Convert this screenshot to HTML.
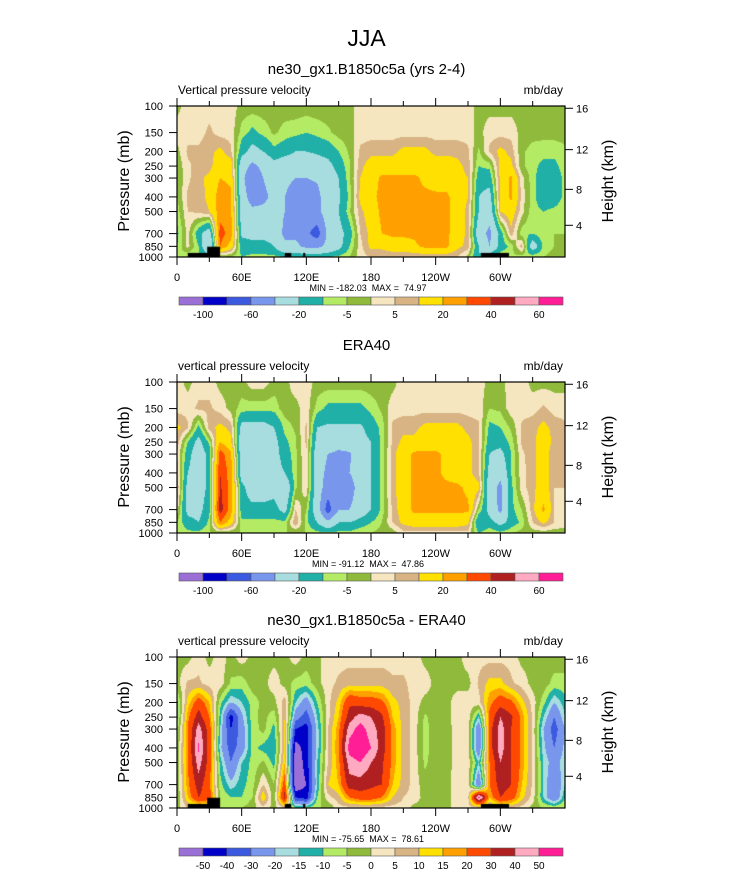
<!DOCTYPE html>
<html><head><meta charset="utf-8">
<style>
body{margin:0;background:#fff;width:733px;height:888px;position:relative;overflow:hidden;font-family:"Liberation Sans",sans-serif;}
canvas{position:absolute;}
svg{position:absolute;left:0;top:0;}
text{white-space:pre;}
</style></head>
<body>
<canvas id="c1" width="388" height="151" style="left:177px;top:106px"></canvas>
<canvas id="c2" width="388" height="151" style="left:177px;top:382px"></canvas>
<canvas id="c3" width="388" height="151" style="left:177px;top:657px"></canvas>
<svg id="ov" width="733" height="888"></svg>
<script>
const lons = [0,10,20,30,40,50,60,70,80,90,100,110,120,130,140,150,160,170,180,190,200,210,220,230,240,250,260,270,280,290,300,310,320,330,340,350,360];
const plevs = [100,150,200,250,300,400,500,700,850,1000];
const colors = ["#9a6fd6","#0000c8","#3c5ae0","#7896ec","#a8dde0","#20b0a8","#b4eb64","#90ba3c","#f5e6c0","#d8b484","#ffe000","#ffa000","#ff4800","#b02020","#ffaac0","#ff1e96"];
const levels12 = [-100,-80,-60,-40,-20,-10,-5,0,5,10,20,30,40,50,60];
const labels12 = ["-100","-60","-20","-5","5","20","40","60"];
const levels3 = [-50,-40,-30,-20,-15,-10,-5,0,5,10,15,20,30,40,50];
const labels3 = ["-50","-40","-30","-20","-15","-10","-5","0","5","10","15","20","30","40","50"];
const xTicks = [0,60,120,180,240,300];
const xTickLabels = ["0","60E","120E","180","120W","60W"];
const pTicks = [100,150,200,250,300,400,500,700,850,1000];
const hTicks = [16,12,8,4];
const hFrac = [0.015,0.289,0.552,0.79];

const model = [
[-2,3,3,3,3,3,-2,-2,-2,-2,-2,-2,-2,-2,-2,-2,-2,3,3,3,3,3,3,3,3,3,3,3,-2,-2,-2,-2,-2,-2,-2,-2,-2],
[3,3,3,6,3,3,-7,-12,-8,-4,-7,-8,-10,-8,-6,-3,-2,3,3,3,3,3,3,3,3,3,3,3,-2,3,3,3,-2,-3,-3,-3,-3],
[-2,6,6,8,12,6,-15,-25,-20,-12,-15,-20,-20,-18,-15,-10,-4,6,8,8,8,12,12,12,8,8,8,6,-6,6,12,8,-4,-7,-8,-8,-6],
[-4,4,7,8,15,15,-30,-45,-35,-25,-30,-30,-30,-28,-25,-15,-6,8,14,15,15,15,15,15,15,15,12,8,-10,-8,12,12,-4,-8,-12,-12,-7],
[-5,4,8,12,20,18,-35,-55,-40,-30,-35,-40,-40,-38,-30,-20,-6,10,15,22,22,22,22,18,15,15,12,10,-15,-15,12,22,2,-8,-15,-15,-8],
[-5,6,7,12,25,22,-30,-50,-45,-35,-40,-50,-50,-45,-30,-22,-8,12,18,22,22,22,22,22,22,22,15,10,-20,-25,12,22,3,-8,-15,-15,-8],
[-8,5,6,10,25,22,-28,-35,-35,-30,-40,-50,-50,-45,-30,-20,-6,8,15,22,25,25,25,25,25,22,15,8,-20,-30,10,15,2,-8,-10,-8,-6],
[-12,2,-15,-30,35,25,-22,-25,-25,-25,-45,-45,-55,-70,-35,-25,-15,5,12,20,22,22,22,25,25,22,15,8,-30,-45,-15,8,-8,-10,-5,-5,-5],
[-10,2,-10,-40,30,15,-15,-15,-15,-20,-35,-35,-45,-45,-35,-25,-10,3,12,12,15,15,18,22,22,22,12,8,-20,-40,-15,-8,8,-30,-8,-5,-5],
[-5,-10,-10,-12,-8,-5,-10,-8,-8,-8,-10,-10,-10,-10,-10,-8,-5,3,5,5,5,5,5,5,5,5,5,-2,-20,-8,-5,-5,-8,-5,-5,-3,-3]];
const era = [
[3,-2,3,3,-2,-2,-2,3,3,-2,-2,3,3,-2,-2,-2,-2,-2,-2,-2,-2,3,3,3,3,3,3,3,3,-2,-2,3,3,-2,-2,-2,-2],
[3,3,6,6,3,-2,-7,-8,-8,-8,-2,-2,3,-7,-12,-12,-12,-12,-8,-4,3,3,3,3,3,3,3,3,3,-5,-4,3,3,3,6,3,3],
[12,6,-12,8,12,8,-25,-25,-25,-20,-8,-4,6,-20,-22,-22,-22,-22,-15,-8,6,8,8,12,12,12,12,8,6,-12,-10,-4,6,8,12,8,6],
[8,-10,-25,-8,20,12,-30,-30,-30,-25,-12,-6,6,-25,-25,-30,-30,-25,-20,-8,6,12,12,15,15,15,15,12,6,-15,-15,-8,6,8,15,8,6],
[5,-15,-30,-15,35,22,-30,-30,-30,-25,-15,-6,5,-30,-40,-45,-42,-30,-20,-8,8,15,22,22,22,18,15,12,6,-20,-25,-10,4,8,15,5,5],
[8,-20,-30,-15,40,25,-30,-30,-30,-25,-20,-6,4,-30,-45,-45,-40,-30,-20,-8,8,15,22,22,22,18,15,12,6,-25,-35,-10,3,8,15,5,5],
[10,-25,-30,-15,42,25,-15,-30,-30,-25,-35,-6,4,-30,-50,-40,-50,-30,-20,-8,8,15,22,22,22,22,22,18,12,-30,-45,-12,3,8,15,5,5],
[3,-25,-25,-12,45,25,-15,-15,-15,-15,-25,5,-5,-30,-70,-40,-40,-30,-20,-8,6,15,22,22,22,22,22,22,-5,-25,-45,-12,-5,8,22,5,3],
[-5,-15,-20,-8,30,15,-8,-8,-8,-8,-8,10,-8,-20,-35,-20,-20,-15,-10,-5,5,12,15,15,15,15,15,12,-20,-15,-25,-15,-8,5,12,5,3],
[-5,-8,-8,-5,-5,-5,-5,-5,-5,-5,-5,-5,-5,-8,-8,-8,-8,-5,-5,-3,-3,3,3,3,3,3,3,3,-10,-5,-8,-5,-3,-3,-3,-3,-3]];
const diff = [
[-2,-2,3,-2,3,-2,3,-2,-2,-2,-2,3,-2,-2,3,3,3,3,3,3,3,3,3,-2,-2,-2,-2,3,3,3,3,3,-2,-2,-2,-2,-2],
[-2,6,6,3,3,-6,-8,-2,-2,3,-2,-7,-8,-2,3,6,8,8,8,8,6,6,3,3,-2,-2,-2,-2,6,12,12,6,3,-2,-2,-7,-7],
[-12,12,25,15,-8,-20,-15,-8,-3,-2,8,-15,-25,-10,3,12,28,25,25,22,12,8,3,-2,-2,-2,3,3,3,18,25,22,12,3,-8,-20,-12],
[-12,18,35,20,-12,-45,-22,-7,-3,-8,10,-25,-35,-15,3,15,35,45,40,32,15,8,3,-6,-2,-2,3,3,-15,22,40,32,18,4,-15,-30,-15],
[-8,20,45,25,-15,-40,-25,-8,-3,-12,12,-40,-45,-18,5,18,45,55,45,35,18,8,3,-7,-2,-3,3,3,-30,25,45,30,18,4,-20,-35,-20],
[-5,20,52,25,-18,-35,-25,-8,-12,-15,12,-55,-45,-18,5,20,55,60,50,35,18,8,3,-7,-2,-3,3,3,-30,25,45,30,18,4,-18,-30,-18],
[-5,20,45,25,-12,-30,-15,-8,-4,-12,15,-60,-45,-15,5,18,45,50,40,32,18,8,3,-6,-2,-3,3,3,-15,20,40,30,18,4,-15,-25,-15],
[-5,18,35,22,-8,-18,-12,-7,5,-5,25,-60,-50,-15,10,15,35,35,32,30,15,8,3,-3,-2,-2,3,3,-30,20,35,30,15,4,-15,-30,-15],
[-5,15,30,25,-5,-10,-10,-5,15,-5,35,-40,-45,-10,3,8,20,25,25,20,10,5,3,-2,-5,-2,3,3,55,15,30,25,12,3,-15,-30,-10],
[-2,5,5,5,-5,-5,-5,-2,3,-2,5,-10,-8,-5,-5,3,3,3,3,3,3,3,-2,-2,-2,-2,3,3,3,3,5,5,3,-2,-5,-5,-5]];
// land mask: [lon start, lon end, top pressure]
const land = [[10,38,940],[28,40,855],[100,106,940],[117,119,940],[282,308,940]];

const W=388,H=151,X0=177;
function xOf(lon){return lon*W/360;}
function yOf(p){return H*Math.log(p/100)/Math.log(10);}
const logp = plevs.map(p=>Math.log(p));
function colorFor(v,lev){let i=0;while(i<lev.length&&v>=lev[i])i++;return colors[i];}
function draw(id,data,lev,mask){
  const ctx=document.getElementById(id).getContext('2d');
  for(let py=0;py<H;py++){
    const lp=Math.log(100)+(py+0.5)/H*Math.log(10);
    let r=0;while(r<plevs.length-2&&lp>logp[r+1])r++;
    let ty=(lp-logp[r])/(logp[r+1]-logp[r]);ty=Math.max(0,Math.min(1,ty));
    for(let px=0;px<W;px++){
      const lon=(px+0.5)/W*360;
      let c=Math.min(35,Math.floor(lon/10));const tx=(lon-lons[c])/10;
      const v=(1-ty)*((1-tx)*data[r][c]+tx*data[r][c+1])+ty*((1-tx)*data[r+1][c]+tx*data[r+1][c+1]);
      ctx.fillStyle=colorFor(v,lev);ctx.fillRect(px,py,1,1);
    }
  }
  if(mask){ctx.fillStyle='#000';land.forEach(l=>{const y=yOf(l[2]);ctx.fillRect(xOf(l[0]),y,xOf(l[1])-xOf(l[0]),H-y);});}
}
draw('c1',model,levels12,true);
draw('c2',era,levels12,false);
draw('c3',diff,levels3,true);

const ov=document.getElementById('ov');
const NS='http://www.w3.org/2000/svg';
function el(tag,attrs,txt){const e=document.createElementNS(NS,tag);for(const k in attrs)e.setAttribute(k,attrs[k]);if(txt!==undefined)e.textContent=txt;ov.appendChild(e);return e;}
function T(x,y,s,txt,anchor,name,extra){const e=el('text',Object.assign({x:x,y:y,'font-size':s,'text-anchor':anchor||'middle','font-family':'Liberation Sans, sans-serif',fill:'#000'},extra||{}),txt);return e;}

T(366.5,46,23,'JJA','middle','main-title');
const panels=[
 {top:106,title:'ne30_gx1.B1850c5a (yrs 2-4)',left:'Vertical pressure velocity',mm:'MIN = -182.03  MAX =  74.97',lev:labels12,all:false,name:'model'},
 {top:382,title:'ERA40',left:'vertical pressure velocity',mm:'MIN = -91.12  MAX =  47.86',lev:labels12,all:false,name:'era40'},
 {top:657,title:'ne30_gx1.B1850c5a - ERA40',left:'vertical pressure velocity',mm:'MIN = -75.65  MAX =  78.61',lev:labels3,all:true,name:'difference'}];
panels.forEach((P,pi)=>{
  const top=P.top,bot=top+H,X1=X0+W;
  T(366.5,top-32,15,P.title,'middle',P.name+'-title');
  T(178,top-12,12,P.left,'start',P.name+'-variable-label');
  T(563,top-12,12,'mb/day','end',P.name+'-units-label');
  let f=el('rect',{x:X0,y:top,width:W,height:H,fill:'none',stroke:'#000','stroke-width':1.2});
  
  for(let lon=0;lon<360;lon+=30){const x=X0+xOf(lon);const L=lon%60===0?8:5;
    el('line',{x1:x,y1:bot,x2:x,y2:bot+L,stroke:'#000','stroke-width':1});
    el('line',{x1:x,y1:top,x2:x,y2:top-L,stroke:'#000','stroke-width':1});}
  xTicks.forEach((lon,i)=>T(X0+xOf(lon),bot+24,11,xTickLabels[i],'middle',P.name+'-x-tick-label'));
  pTicks.forEach(p=>{const y=top+yOf(p);el('line',{x1:X0,y1:y,x2:X0-8,y2:y,stroke:'#000'});T(X0-14,y+4,11,String(p),'end',P.name+'-y-tick-label');});
  hTicks.forEach((h,i)=>{const y=top+hFrac[i]*H;el('line',{x1:X1,y1:y,x2:X1+8,y2:y,stroke:'#000'});T(X1+11,y+4,11,String(h),'start',P.name+'-height-tick-label');});
  T(0,0,16,'Pressure (mb)','middle',P.name+'-y-axis-title',{transform:`translate(129,${top+75}) rotate(-90)`});
  T(0,0,16,'Height (km)','middle',P.name+'-height-axis-title',{transform:`translate(613,${top+75}) rotate(-90)`});
  T(368,bot+34,9,P.mm,'middle',P.name+'-min-max');
  const cy=bot+40,cw=(563-179)/16;
  colors.forEach((c,i)=>{const r=el('rect',{x:179+i*cw,y:cy,width:cw,height:8,fill:c,stroke:'#555','stroke-width':0.6});
    });
  P.lev.forEach((lab,i)=>{const b=P.all?i+1:2*i+1;T(179+b*cw,cy+21,10,lab,'middle',P.name+'-colorbar-label');});
});
</script>
</body></html>
